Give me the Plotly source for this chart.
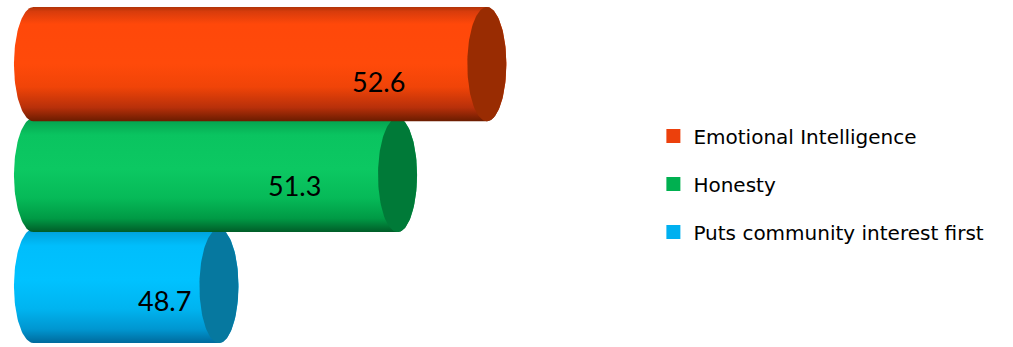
import numpy as np
import plotly.graph_objects as go

# Survey results: share of respondents naming each quality
categories = ["Emotional Intelligence", "Honesty", "Puts community interest first"]
values = [52.6, 51.3, 48.7]
axis_start = 46

# Cylinder styling, one entry per category
legend_colors = ["#EC400C", "#00B050", "#00B0F0"]
cap_colors = ["#992C02", "#007A38", "#06789F"]
body_scales = [
    [[0, "#6A1C00"], [0.12, "#B8300A"], [0.3, "#F04408"], [0.5, "#FF4A0A"],
     [0.85, "#FF480A"], [0.96, "#D83C0C"], [1, "#B03408"]],
    [[0, "#005C28"], [0.12, "#009A45"], [0.3, "#06BA58"], [0.55, "#0CC862"],
     [0.85, "#0AC460"], [0.96, "#06A852"], [1, "#04984A"]],
    [[0, "#006A9C"], [0.12, "#0096D0"], [0.3, "#00B4F0"], [0.55, "#00C2FF"],
     [0.85, "#00BEFC"], [0.96, "#00A6E0"], [1, "#0096D0"]],
]
label_xshift = [-108, -103, -54]
label_yshift = [-17, -10, -15]

cap_rx = 0.284   # horizontal radius of the elliptical ends, in axis units
half_h = 0.515   # half of the bar thickness, in category units (slight overlap)

fig = go.Figure()

n = len(categories)
# draw bottom cylinder first so each upper one sits over the one below
for i in reversed(range(n)):
    val = values[i]
    yc = n - 1 - i
    t_left = np.linspace(np.pi / 2, 3 * np.pi / 2, 60)
    t_right = np.linspace(-np.pi / 2, np.pi / 2, 60)
    xs = np.concatenate([axis_start + cap_rx * np.cos(t_left),
                         val + cap_rx * np.cos(t_right)])
    ys = np.concatenate([yc + half_h * np.sin(t_left),
                         yc + half_h * np.sin(t_right)])
    xs = np.append(xs, xs[0])
    ys = np.append(ys, ys[0])
    # cylinder body with vertical shading
    fig.add_trace(go.Scatter(
        x=xs, y=ys, mode="lines", fill="toself",
        line=dict(width=0, color=legend_colors[i]),
        fillgradient=dict(type="vertical", colorscale=body_scales[i],
                          start=yc - half_h, stop=yc + half_h),
        hoverinfo="skip", showlegend=False))
    # end cap
    t = np.linspace(0, 2 * np.pi, 120)
    fig.add_trace(go.Scatter(
        x=val + cap_rx * np.cos(t), y=yc + half_h * np.sin(t),
        mode="lines", fill="toself", fillcolor=cap_colors[i],
        line=dict(width=0, color=cap_colors[i]),
        hoverinfo="skip", showlegend=False))
    fig.add_annotation(
        x=val, y=yc, text=f"{val}", showarrow=False,
        xshift=label_xshift[i], yshift=label_yshift[i],
        font=dict(family="Lato", size=27, color="#000000"))

# legend entries
for i, name in enumerate(categories):
    fig.add_trace(go.Scatter(
        x=[None], y=[None], mode="markers", name=name,
        legendgroup=f"g{i}",
        marker=dict(symbol="square", size=14, color=legend_colors[i])))

fig.update_layout(
    width=1013, height=347,
    margin=dict(l=6, r=430, t=7, b=4),
    paper_bgcolor="white", plot_bgcolor="white",
    xaxis=dict(range=[axis_start - 0.4, 54], visible=False, fixedrange=True),
    yaxis=dict(range=[-half_h, n - 1 + half_h], visible=False, fixedrange=True),
    legend=dict(xref="container", yref="container", x=0.645, y=0.47,
                xanchor="left", yanchor="middle", tracegroupgap=19,
                font=dict(family="DejaVu Sans", size=20, color="#000000"),
                bgcolor="rgba(0,0,0,0)"),
    showlegend=True,
)

fig.write_html("out.html")
